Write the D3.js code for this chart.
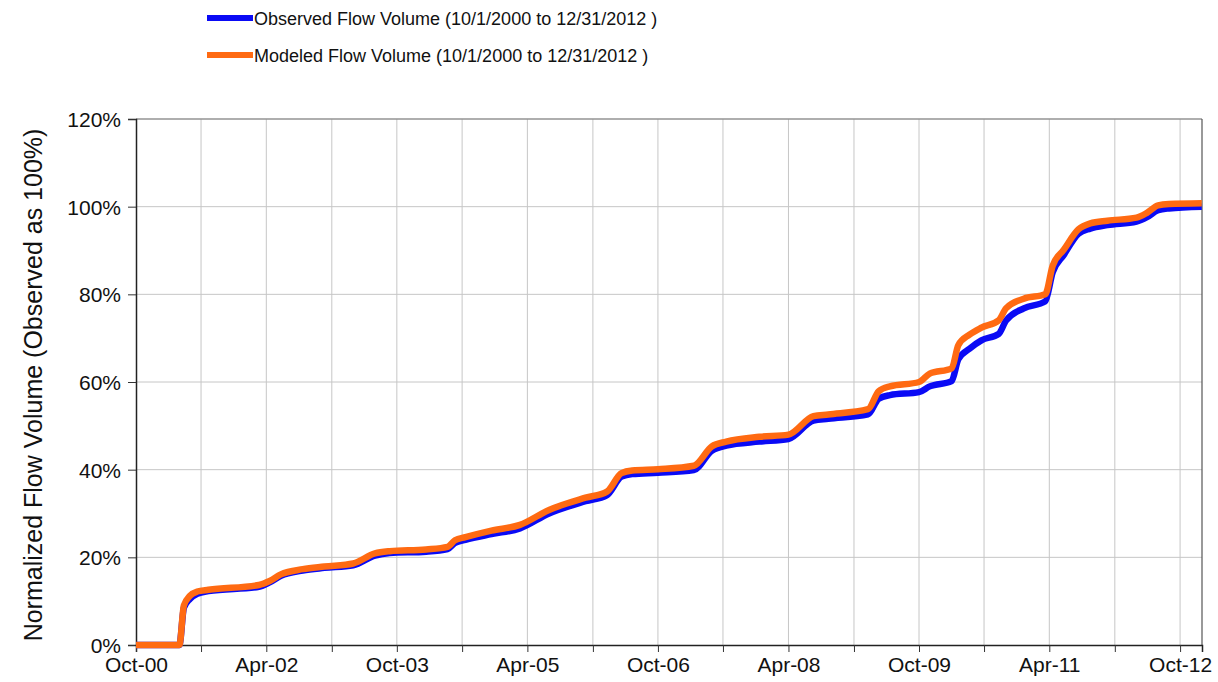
<!DOCTYPE html>
<html>
<head>
<meta charset="utf-8">
<script src="https://cdn.jsdelivr.net/npm/d3@7"></script>
<style>
  body { margin: 0; background: #fff; }
  svg { display: block; font-family: "Liberation Sans", Arial, sans-serif; }
</style>
</head>
<body>
<svg id="chart" width="1218" height="682"></svg>
<script>
// sample dates
const dates = [
    "2000-10-01", "2001-04-01", "2001-04-20", "2001-05-15", "2001-06-15", "2001-08-01",
    "2002-03-01", "2002-04-15", "2002-06-01", "2002-09-01", "2002-12-01", "2003-04-01",
    "2003-07-01", "2003-09-01", "2004-02-01", "2004-05-01", "2004-06-01", "2004-07-15",
    "2004-11-01", "2005-03-01", "2005-07-01", "2005-12-01", "2006-03-01", "2006-05-01",
    "2006-06-15", "2006-10-01", "2007-03-01", "2007-05-15", "2007-07-15", "2007-12-01",
    "2008-04-01", "2008-07-15", "2008-09-15", "2009-03-01", "2009-04-15", "2009-06-01",
    "2009-10-01", "2009-11-15", "2010-02-15", "2010-03-15", "2010-05-01", "2010-06-20",
    "2010-09-01", "2010-10-01", "2010-12-15", "2011-03-15", "2011-04-15", "2011-06-01",
    "2011-08-01", "2011-09-20", "2011-12-01", "2012-04-01", "2012-05-15", "2012-07-01",
    "2012-08-15", "2012-12-31"
];

// cumulative volume, % of total observed
const observed = [
    0, 0, 8.5, 10.5, 11.7, 12.3,
    13.3, 14.3, 15.8, 17.0, 17.6, 18.2,
    20.4, 21.0, 21.3, 21.9, 23.3, 24.0,
    25.3, 26.6, 30.0, 32.8, 34.2, 38.4,
    39.0, 39.3, 39.9, 44.3, 45.5, 46.4,
    47.0, 51.2, 51.6, 52.6, 56.2, 57.0,
    57.7, 59.0, 60.2, 65.2, 67.6, 69.5,
    71.0, 74.0, 76.8, 78.4, 85.0, 89.0,
    93.8, 95.0, 95.8, 96.6, 97.6, 99.2,
    99.6, 100.0
];

const modeled = [
    0, 0, 9.0, 11.2, 12.2, 12.6,
    13.7, 14.6, 16.1, 17.3, 17.9, 18.6,
    20.9, 21.4, 21.8, 22.4, 23.9, 24.6,
    26.1, 27.4, 30.8, 33.6, 35.0, 39.2,
    39.8, 40.1, 40.9, 45.3, 46.4, 47.5,
    48.0, 52.2, 52.6, 53.8, 57.9, 59.0,
    60.0, 61.9, 63.1, 68.4, 70.8, 72.4,
    74.1, 76.8, 79.0, 80.0, 86.5, 90.2,
    94.8, 96.2, 96.8, 97.5, 98.6, 100.3,
    100.6, 100.8
];

const yTicks = [0, 20, 40, 60, 80, 100, 120];
const xTickLabels = ["Oct-00", "Apr-02", "Oct-03", "Apr-05", "Oct-06", "Apr-08", "Oct-09", "Apr-11", "Oct-12"];
const seriesNames = [
    "Observed Flow Volume (10/1/2000 to 12/31/2012 )",
    "Modeled Flow Volume (10/1/2000 to 12/31/2012 )"
];
const colors = ["#0a0af5", "#ff6a12"];

const svg = d3.select("#chart");
const parse = d3.timeParse("%Y-%m-%d");
const m = {left: 136, right: 1202, top: 119, bottom: 645};

const start = parse("2000-10-01");
const x = d3.scaleTime().domain([start, parse("2013-01-01")]).range([m.left, m.right]);
const y = d3.scaleLinear().domain([0, 120]).range([m.bottom, m.top]);

// ticks every 9 months, every other one labelled
const xTicks = d3.range(17).map(i => d3.timeMonth.offset(start, 9 * i));

// grid
const grid = svg.append("g").attr("stroke", "#c6c6c6").attr("stroke-width", 1);
grid.selectAll(".vg").data(xTicks.slice(1)).join("line")
    .attr("x1", d => x(d)).attr("x2", d => x(d))
    .attr("y1", m.top).attr("y2", m.bottom);
grid.selectAll(".hg").data(yTicks.slice(1)).join("line")
    .attr("x1", m.left).attr("x2", m.right)
    .attr("y1", d => y(d)).attr("y2", d => y(d));

// frame
svg.append("line").attr("x1", m.left).attr("x2", m.right).attr("y1", m.top).attr("y2", m.top)
    .attr("stroke", "#7a7a7a").attr("stroke-width", 1.2);
svg.append("line").attr("x1", m.right).attr("x2", m.right).attr("y1", m.top).attr("y2", m.bottom)
    .attr("stroke", "#555").attr("stroke-width", 1.2);

// axes
const yAxis = svg.append("g").attr("transform", `translate(${m.left},0)`)
    .call(d3.axisLeft(y).tickValues(yTicks).tickFormat(d => d + "%").tickSize(8).tickPadding(7));
const xAxis = svg.append("g").attr("transform", `translate(0,${m.bottom})`)
    .call(d3.axisBottom(x).tickValues(xTicks)
        .tickFormat((d, i) => i % 2 === 0 ? xTickLabels[i / 2] : "")
        .tickSize(7).tickPadding(5));
[yAxis, xAxis].forEach(a => {
    a.select(".domain").attr("stroke", "#222").attr("stroke-width", 1.5);
    a.selectAll(".tick line").attr("stroke", "#333");
    a.selectAll("text").attr("font-size", 21).attr("fill", "#111")
        .attr("font-family", "'Liberation Sans', Arial, sans-serif");
});
yAxis.selectAll("text").attr("dy", "0.36em");

svg.append("text")
    .attr("transform", `translate(42,${(m.top + m.bottom) / 2 + 3}) rotate(-90)`)
    .attr("text-anchor", "middle")
    .attr("font-size", 25).attr("fill", "#111")
    .text("Normalized Flow Volume (Observed as 100%)");

// lines
const pts = [observed, modeled].map(vals => vals.map((v, i) => ({date: parse(dates[i]), v})));
const line = d3.line().x(d => x(d.date)).y(d => y(d.v)).curve(d3.curveMonotoneX);
svg.append("g").selectAll("path").data(pts).join("path")
    .attr("d", line)
    .attr("fill", "none")
    .attr("stroke", (d, i) => colors[i])
    .attr("stroke-width", 6.5)
    .attr("stroke-linejoin", "round");

// legend
const legend = svg.append("g");
seriesNames.forEach((name, i) => {
    const ly = 18 + i * 37;
    legend.append("line").attr("x1", 207).attr("x2", 253).attr("y1", ly).attr("y2", ly)
        .attr("stroke", colors[i]).attr("stroke-width", 6);
    legend.append("text").attr("x", 254).attr("y", ly + 6.5)
        .attr("font-size", 18).attr("fill", "#111").text(name);
});
</script>
</body>
</html>
